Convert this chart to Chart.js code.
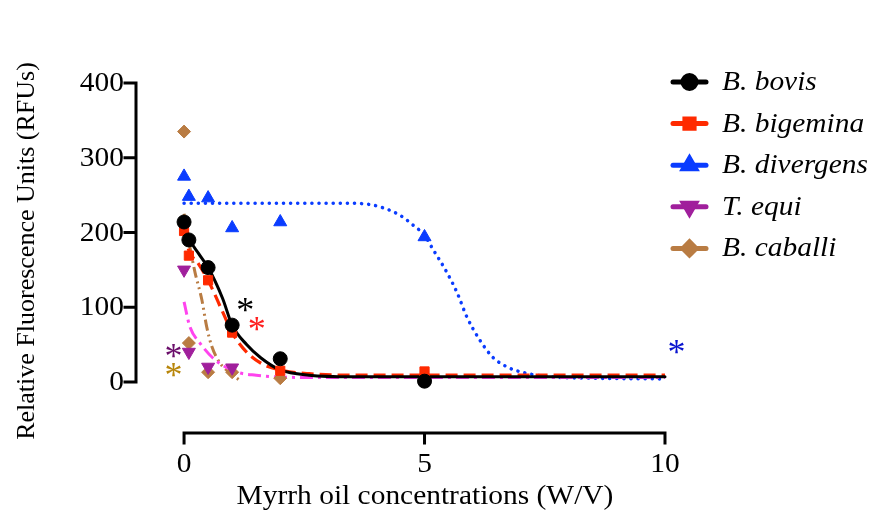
<!DOCTYPE html>
<html>
<head>
<meta charset="utf-8">
<script src="https://cdn.jsdelivr.net/npm/chart.js@4/dist/chart.umd.min.js"></script>
<style>
html,body{margin:0;padding:0;background:#fff;}
#wrap{width:871px;height:515px;position:relative;}
</style>
</head>
<body>
<div id="wrap"><canvas id="c"></canvas></div>
<script>
// ---- data ----
const seriesNames = ["B. bovis", "B. bigemina", "B. divergens", "T. equi", "B. caballi"];
const xTicks = [0, 5, 10];
const yTicks = [0, 100, 200, 300, 400];
const xTitle = "Myrrh oil concentrations (W/V)";
const yTitle = "Relative Fluorescence Units (RFUs)";

// measured points
const bovisX = [0, 0.1, 0.5, 1, 2, 5];
const bovisY = [214, 190, 153, 76, 31, 1];
const bigeminaX = [0, 0.1, 0.5, 1, 2, 5];
const bigeminaY = [202, 169, 136, 66, 15, 14];
const divergensX = [0, 0.1, 0.5, 1, 2, 5];
const divergensY = [275, 248, 246, 206, 214, 194];
const equiX = [0, 0.1, 0.5, 1];
const equiY = [150, 40, 20, 19];
const caballiX = [0, 0.1, 0.5, 1, 2];
const caballiY = [335, 52, 13, 13, 5];

// fitted curves
const bovisFitX = [0, 0.1, 0.3, 0.5, 0.8, 1.0, 1.3, 1.6, 2.0, 2.6, 3.5, 5, 10];
const bovisFitY = [214, 193, 172, 153, 112, 76, 50, 32, 16, 9, 7, 7, 7];
const bigeminaFitX = [0, 0.1, 0.3, 0.5, 0.8, 1.0, 1.3, 1.6, 2.0, 2.6, 3.5, 5, 10];
const bigeminaFitY = [202, 176, 158, 136, 94, 66, 40, 25, 16, 11, 9, 9, 9];
const divergensFitX = [0, 2, 3.5, 3.9, 4.14, 4.49, 4.76, 5.0, 5.18, 5.47, 5.68, 5.88, 6.15, 6.42, 6.72, 7.09, 7.6, 8.5, 10];
const divergensFitY = [239, 239, 239, 237, 233, 223, 210, 196, 177, 146, 119, 87, 56, 33, 20, 12, 7, 5, 4];
const equiFitX = [0, 0.12, 0.33, 0.6, 0.89, 1.16, 1.5, 1.85, 2.5, 5, 10];
const equiFitY = [107, 74, 52, 32, 19, 12, 9, 7, 6, 6, 6];
const caballiFitX = [0, 0.12, 0.23, 0.37, 0.47, 0.58, 0.75, 0.96, 1.18];
const caballiFitY = [225, 181, 146, 110, 74, 47, 25, 12, 1];

// significance asterisks: [x, y]
const starBovis = [1.27, 103];
const starBigemina = [1.51, 78];
const starEqui = [-0.22, 42];
const starCaballi = [-0.22, 16];
const starDivergens = [10.24, 47];

// ---- styles ----
const C = {
  bovis: '#000000', bigemina: '#ff2a00', divergens: '#0a3cff',
  equi: '#a01f9c', caballi: '#b97c43', equiFit: '#ff44ee'
};
const SERIF = '"Liberation Serif", "Times New Roman", serif';
const SX = 1.09; // horizontal stretch of the reference lettering

function pts(xs, ys) { return xs.map((x, i) => ({x: x, y: ys[i]})); }

function markerDS(label, xs, ys, color, style, rot, r, order) {
  return {
    label, data: pts(xs, ys), showLine: false,
    pointStyle: style, rotation: rot, pointRadius: r,
    pointBackgroundColor: color, pointBorderColor: color, pointBorderWidth: 1,
    backgroundColor: color, borderColor: color, order
  };
}
function curveDS(label, xs, ys, color, dash, width, cap, order) {
  return {
    label, data: pts(xs, ys), showLine: true, pointRadius: 0,
    borderColor: color, borderWidth: width, borderDash: dash,
    borderCapStyle: cap, cubicInterpolationMode: 'monotone',
    fill: false, order
  };
}

const datasets = [
  curveDS('fit divergens', divergensFitX, divergensFitY, C.divergens, [0.1, 7], 3.5, 'round', 20),
  curveDS('fit caballi', caballiFitX, caballiFitY, C.caballi, [11, 4, 2, 4, 2, 4], 3, 'butt', 19),
  curveDS('fit equi', equiFitX, equiFitY, C.equiFit, [13, 5, 3, 5], 3, 'butt', 18),
  curveDS('fit bigemina', bigeminaFitX, bigeminaFitY, C.bigemina, [12, 6], 3.2, 'butt', 17),
  curveDS('fit bovis', bovisFitX, bovisFitY, C.bovis, [], 3, 'round', 16),
  markerDS(seriesNames[4], caballiX, caballiY, C.caballi, 'rectRot', 0, 6.5, 5),
  markerDS(seriesNames[3], equiX, equiY, C.equi, 'triangle', 180, 7.5, 4),
  markerDS(seriesNames[2], divergensX, divergensY, C.divergens, 'triangle', 0, 7.5, 3),
  markerDS(seriesNames[1], bigeminaX, bigeminaY, C.bigemina, 'rect', 0, 6.5, 2),
  markerDS(seriesNames[0], bovisX, bovisY, C.bovis, 'circle', 0, 7, 1)
];

const legendItems = [
  {name: seriesNames[0], color: C.bovis, style: 'circle', rot: 0, r: 6.5},
  {name: seriesNames[1], color: C.bigemina, style: 'rect', rot: 0, r: 6.5},
  {name: seriesNames[2], color: C.divergens, style: 'triangle', rot: 0, r: 7},
  {name: seriesNames[3], color: C.equi, style: 'triangle', rot: 180, r: 7},
  {name: seriesNames[4], color: C.caballi, style: 'rectRot', rot: 0, r: 6.5}
];
const stars = [
  {p: starBovis, color: '#000000'},
  {p: starBigemina, color: '#ff2020'},
  {p: starEqui, color: '#6b0f6b'},
  {p: starCaballi, color: '#b8860b'},
  {p: starDivergens, color: '#0a14d0'}
];

function text(ctx, s, x, y) {
  ctx.save();
  ctx.translate(x, y);
  ctx.scale(SX, 1);
  ctx.fillText(s, 0, 0);
  ctx.restore();
}

const decor = {
  id: 'decor',
  afterDraw(chart) {
    const ctx = chart.ctx;
    const xs = chart.scales.x, ys = chart.scales.y;
    ctx.save();
    ctx.strokeStyle = '#000';
    ctx.fillStyle = '#000';
    ctx.lineWidth = 3;
    ctx.lineCap = 'square';
    // y axis
    const yAxisX = 136;
    const y0 = ys.getPixelForValue(yTicks[0]);
    const y1 = ys.getPixelForValue(yTicks[yTicks.length - 1]);
    ctx.beginPath();
    ctx.moveTo(yAxisX, y0); ctx.lineTo(yAxisX, y1);
    yTicks.forEach(v => {
      const py = ys.getPixelForValue(v);
      ctx.moveTo(yAxisX, py); ctx.lineTo(yAxisX - 11, py);
    });
    ctx.stroke();
    ctx.font = '27px ' + SERIF;
    ctx.textAlign = 'right';
    ctx.textBaseline = 'middle';
    yTicks.forEach(v => text(ctx, String(v), yAxisX - 12, ys.getPixelForValue(v) + 1));
    // x axis
    const xAxisY = 433;
    const x0 = xs.getPixelForValue(xTicks[0]);
    const x1 = xs.getPixelForValue(xTicks[xTicks.length - 1]);
    ctx.beginPath();
    ctx.moveTo(x0, xAxisY); ctx.lineTo(x1, xAxisY);
    xTicks.forEach(v => {
      const px = xs.getPixelForValue(v);
      ctx.moveTo(px, xAxisY); ctx.lineTo(px, xAxisY + 10);
    });
    ctx.stroke();
    ctx.textAlign = 'center';
    ctx.textBaseline = 'middle';
    xTicks.forEach(v => text(ctx, String(v), xs.getPixelForValue(v), 465));
    // titles
    text(ctx, xTitle, 425, 497);
    ctx.save();
    ctx.font = '26px ' + SERIF;
    ctx.translate(27, 251);
    ctx.rotate(-Math.PI / 2);
    ctx.fillText(yTitle, 0, 0);
    ctx.restore();
    // asterisks
    ctx.font = '36px ' + SERIF;
    ctx.textAlign = 'center';
    ctx.textBaseline = 'alphabetic';
    stars.forEach(s => {
      const m = ctx.measureText('*');
      const px = xs.getPixelForValue(s.p[0]);
      const py = ys.getPixelForValue(s.p[1]);
      ctx.fillStyle = s.color;
      ctx.fillText('*', px, py + (m.actualBoundingBoxAscent - m.actualBoundingBoxDescent) / 2);
    });
    // legend
    legendItems.forEach((it, i) => {
      const ly = 82 + i * 41.6;
      ctx.strokeStyle = it.color;
      ctx.lineWidth = 5;
      ctx.lineCap = 'round';
      ctx.beginPath();
      ctx.moveTo(673, ly); ctx.lineTo(706, ly);
      ctx.stroke();
      ctx.fillStyle = it.color;
      Chart.helpers.drawPoint(ctx, {pointStyle: it.style, rotation: it.rot, radius: it.r, borderWidth: 1}, 689.5, ly);
      ctx.fillStyle = '#000';
      ctx.font = 'italic 27px ' + SERIF;
      ctx.textAlign = 'left';
      ctx.textBaseline = 'middle';
      text(ctx, it.name, 722, ly + 1);
    });
    ctx.restore();
  }
};

new Chart(document.getElementById('c'), {
  type: 'scatter',
  data: {datasets},
  options: {
    responsive: true,
    maintainAspectRatio: false,
    animation: false,
    layout: {padding: {left: 135, right: 181, top: 75, bottom: 83}},
    plugins: {legend: {display: false}, tooltip: {enabled: false}},
    scales: {
      x: {type: 'linear', min: -1.02, max: 10.52, display: false},
      y: {type: 'linear', min: -67, max: 410.7, display: false}
    }
  },
  plugins: [decor]
});
</script>
</body>
</html>
